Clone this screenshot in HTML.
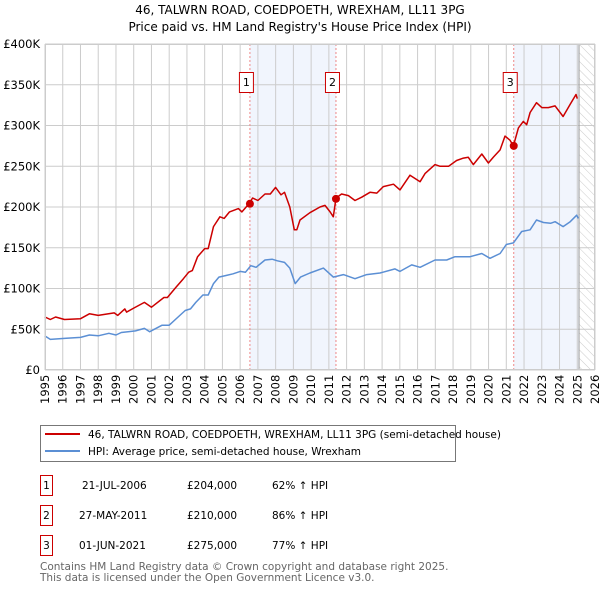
<!DOCTYPE html>
<html><head><meta charset="utf-8"><style>
body{margin:0;background:#fff;font-family:"Liberation Sans","DejaVu Sans",sans-serif;}
</style></head><body>
<svg width="600" height="590" xmlns="http://www.w3.org/2000/svg" font-family="DejaVu Sans, Liberation Sans, sans-serif">
<defs><pattern id="hatch" width="6" height="6" patternUnits="userSpaceOnUse" patternTransform="rotate(-45)"><line x1="0" y1="0" x2="0" y2="6" stroke="#ccc" stroke-width="1"/></pattern></defs>
<text x="300" y="14" text-anchor="middle" font-size="12">46, TALWRN ROAD, COEDPOETH, WREXHAM, LL11 3PG</text>
<text x="300" y="31" text-anchor="middle" font-size="12">Price paid vs. HM Land Registry's House Price Index (HPI)</text>
<g id="plot"></g>
<g>
<rect x="40.5" y="425.5" width="415" height="36" fill="#fff" stroke="#777"/>
<line x1="45" y1="434" x2="80" y2="434" stroke="#cc0000" stroke-width="2"/>
<text x="88" y="438" font-size="10.5">46, TALWRN ROAD, COEDPOETH, WREXHAM, LL11 3PG (semi-detached house)</text>
<line x1="45" y1="451" x2="80" y2="451" stroke="#5b8fd4" stroke-width="2"/>
<text x="88" y="455" font-size="10.5">HPI: Average price, semi-detached house, Wrexham</text>
</g>
<g font-size="10.5">
<rect x="40.5" y="475.5" width="12" height="20" fill="#fff" stroke="#cc0000"/><text x="46.5" y="489" text-anchor="middle">1</text>
<text x="82" y="489">21-JUL-2006</text><text x="187" y="489">£204,000</text><text x="272" y="489">62% ↑ HPI</text>
<rect x="40.5" y="505.5" width="12" height="20" fill="#fff" stroke="#cc0000"/><text x="46.5" y="519" text-anchor="middle">2</text>
<text x="79" y="519">27-MAY-2011</text><text x="187" y="519">£210,000</text><text x="272" y="519">86% ↑ HPI</text>
<rect x="40.5" y="535.5" width="12" height="20" fill="#fff" stroke="#cc0000"/><text x="46.5" y="549" text-anchor="middle">3</text>
<text x="79" y="549">01-JUN-2021</text><text x="187" y="549">£275,000</text><text x="272" y="549">77% ↑ HPI</text>
</g>
<text x="40" y="570" font-size="10.5" fill="#666">Contains HM Land Registry data © Crown copyright and database right 2025.</text>
<text x="40" y="581" font-size="10.5" fill="#666">This data is licensed under the Open Government Licence v3.0.</text>
</svg>
<script>
const redYears=[1995.0,1995.3,1995.6,1996.1,1997.0,1997.5,1998.0,1998.9,1999.1,1999.5,1999.6,2000.0,2000.6,2001.0,2001.7,2001.9,2002.4,2002.8,2003.1,2003.3,2003.6,2004.0,2004.2,2004.5,2004.86,2005.1,2005.4,2005.9,2006.1,2006.5,2006.7,2007.0,2007.4,2007.7,2008.0,2008.3,2008.5,2008.8,2009.05,2009.19,2009.37,2009.93,2010.5,2010.78,2011.07,2011.25,2011.4,2011.72,2012.1,2012.47,2012.85,2013.32,2013.7,2014.07,2014.64,2015.01,2015.57,2016.14,2016.42,2016.98,2017.27,2017.74,2018.2,2018.58,2018.86,2019.14,2019.62,2019.99,2020.27,2020.65,2020.93,2021.21,2021.4,2021.68,2021.96,2022.15,2022.34,2022.7,2023.0,2023.37,2023.75,2024.2,2024.6,2024.93,2025.0];
const redValues=[65,62,65,62,63,69,67,70,67,75,71,76,83,77,89,89,102,112,120,122,139,149,149,176,188,186,194,198,194,204,211,208,216,216,224,215,218,200,172,172,184,193,200,202,194,188,211,216,214,208,212,218,217,225,228,221,239,231,241,252,250,250,257,260,261,252,265,254,261,270,287,282,275,297,305,301,316,328,322,322,324,311,326,338,333];
const hpiYears=[1995.0,1995.3,1996.2,1997.0,1997.5,1998.0,1998.6,1999.0,1999.3,2000.1,2000.6,2000.9,2001.6,2002.0,2002.5,2002.9,2003.2,2003.5,2003.9,2004.2,2004.5,2004.8,2005.2,2005.6,2006.0,2006.3,2006.6,2006.9,2007.4,2007.8,2008.1,2008.5,2008.8,2009.1,2009.4,2009.93,2010.69,2011.25,2011.82,2012.47,2013.13,2013.88,2014.73,2015.01,2015.67,2016.14,2016.98,2017.64,2018.11,2018.96,2019.62,2020.08,2020.65,2021.0,2021.4,2021.87,2022.34,2022.7,2023.1,2023.5,2023.75,2024.2,2024.6,2024.97,2025.06];
const hpiValues=[41.7,37.6,39,40,43,42,45,43,46,48,51,47,55,55,65,73,75,83,92,92,106,114,116,118,121,120,128,126,135,136,134,132,125,106,114,119,125,114,117,112,117,119,124,121,129,126,135,135,139,139,143,137,143,154,156,170,172,184,181,180,182,176,182,190,186];
const saleYears=[2006.55,2011.4,2021.42];
const saleValues=[204,210,275];
const saleLabels=["1","2","3"];
const yTicks=[0,50,100,150,200,250,300,350,400];
const yTickLabels=["£0","£50K","£100K","£150K","£200K","£250K","£300K","£350K","£400K"];
const xTicks=[];for(let y=1995;y<=2026;y++)xTicks.push(y);

const X0=45,X1=595,Y0=370,Y1=44;
const xs=y=>X0+(y-1995)/(2026-1995)*(X1-X0);
const ys=v=>Y0-v/400*(Y0-Y1);
const NS="http://www.w3.org/2000/svg";
const g=document.getElementById('plot');
function mk(t,a){const e=document.createElementNS(NS,t);for(const k in a)e.setAttribute(k,a[k]);g.appendChild(e);return e;}
let s1=mk('rect',{x:xs(saleYears[0]),y:Y1,width:xs(saleYears[1])-xs(saleYears[0]),height:Y0-Y1,fill:'#eef3fc',opacity:0.8});


let s3=mk('rect',{x:xs(saleYears[2]),y:Y1,width:xs(2025.1)-xs(saleYears[2]),height:Y0-Y1,fill:'#eef3fc',opacity:0.8});


let h=mk('rect',{x:xs(2025.1),y:Y1,width:X1-xs(2025.1),height:Y0-Y1,fill:'url(#hatch)'});


xTicks.forEach(t=>{const l=mk('line',{x1:xs(t),x2:xs(t),y1:Y1,y2:Y0,stroke:'#ccc','stroke-width':1});


const tx=mk('text',{x:0,y:0,'font-size':11.5,transform:`translate(${xs(t)+4},${Y0+34}) rotate(-90)`});tx.textContent=t;

});
yTicks.forEach((t,i)=>{const l=mk('line',{x1:X0,x2:X1,y1:ys(t),y2:ys(t),stroke:'#ccc','stroke-width':1});


const tx=mk('text',{x:40,y:ys(t)+4,'text-anchor':'end','font-size':11.5});tx.textContent=yTickLabels[i];

});
let nl=mk('line',{x1:xs(2025.1),x2:xs(2025.1),y1:Y1,y2:Y0,stroke:'#999','stroke-width':1});


saleYears.forEach((y,i)=>{const l=mk('line',{x1:xs(y),x2:xs(y),y1:Y1,y2:Y0,stroke:'#e88','stroke-width':1,'stroke-dasharray':'2,2'});

});
function line(xsA,vs,col,name){const d=xsA.map((y,i)=>(i?'L':'M')+xs(y).toFixed(1)+','+ys(vs[i]).toFixed(1)).join('');
const p=mk('path',{d:d,fill:'none',stroke:col,'stroke-width':1.5,'stroke-linejoin':'round'});

}
line(hpiYears,hpiValues,'#5b8fd4','hpi-line');
line(redYears,redValues,'#cc0000','property-price-line');
saleYears.forEach((y,i)=>{const c=mk('circle',{cx:xs(y),cy:ys(saleValues[i]),r:4,fill:'#cc0000'});


const r=mk('rect',{x:xs(y)-10.5,y:72.5,width:14,height:20,fill:'#fff',stroke:'#cc0000'});


const t=mk('text',{x:xs(y)-3.5,y:86,'text-anchor':'middle','font-size':11});t.textContent=saleLabels[i];

});
let fr=mk('rect',{x:X0+0.5,y:Y1+0.5,width:X1-X0-1,height:Y0-Y1-1,fill:'none',stroke:'#ccc'});


</script>
</body></html>
